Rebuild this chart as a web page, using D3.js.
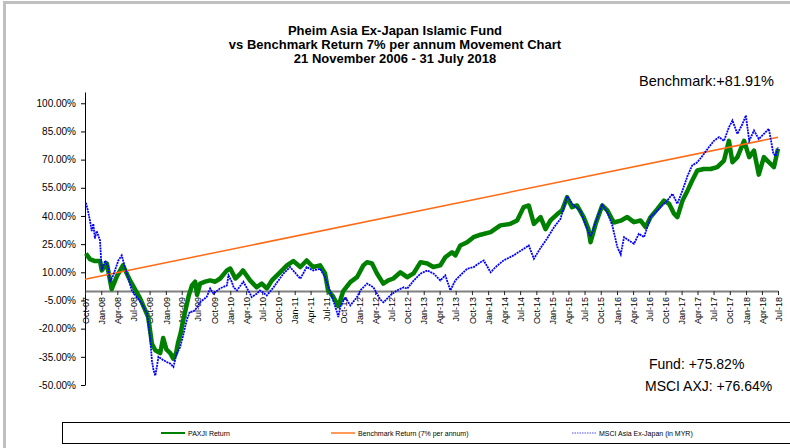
<!DOCTYPE html>
<html>
<head>
<meta charset="utf-8">
<script src="https://cdn.jsdelivr.net/npm/d3@7"></script>
<style>
  body { margin: 0; background: #fff; }
  svg { display: block; font-family: Arial, "Liberation Sans", sans-serif; }
</style>
</head>
<body>
<div id="chart"></div>
<script>
// Pheim Asia Ex-Japan Islamic Fund (%)
const paxji = [
  ["2007-10-06", 20], ["2007-10-29", 17], ["2007-11-26", 16], ["2007-12-25", 16], ["2008-01-04", 11],
  ["2008-02-02", 14.7], ["2008-02-29", 1], ["2008-03-30", 8], ["2008-05-03", 13.7], ["2008-06-12", 5.7],
  ["2008-08-08", -3.9], ["2008-09-23", -13.8], ["2008-10-14", -28], ["2008-11-02", -31.5], ["2008-11-30", -33],
  ["2008-12-17", -25], ["2009-01-04", -31], ["2009-01-26", -33], ["2009-02-12", -36], ["2009-02-28", -33],
  ["2009-03-10", -28], ["2009-03-27", -22], ["2009-04-08", -16], ["2009-04-25", -9], ["2009-05-12", -2],
  ["2009-05-29", 3], ["2009-06-16", 5], ["2009-06-27", -2], ["2009-07-14", 4], ["2009-08-12", 5],
  ["2009-09-09", 5.7], ["2009-10-08", 5], ["2009-11-05", 6.7], ["2009-12-13", 11], ["2010-01-01", 12],
  ["2010-01-30", 6.7], ["2010-02-25", 9], ["2010-03-14", 11], ["2010-04-06", 8], ["2010-04-23", 5.7],
  ["2010-05-31", 2], ["2010-06-28", 4], ["2010-07-27", 1.4], ["2010-08-25", 5.7], ["2010-09-18", 8],
  ["2010-10-10", 10], ["2010-11-18", 13.7], ["2010-12-24", 16], ["2011-02-02", 12.8], ["2011-03-10", 16.3],
  ["2011-04-15", 12.8], ["2011-05-25", 13.7], ["2011-06-22", 9.4], ["2011-07-09", 0.4], ["2011-08-07", -3],
  ["2011-09-05", -8], ["2011-09-16", -5], ["2011-10-03", 0], ["2011-11-12", 4.8], ["2011-12-20", 7.4],
  ["2012-01-25", 13.7], ["2012-02-15", 15.4], ["2012-03-14", 14.7], ["2012-04-11", 9.4], ["2012-05-17", 4],
  ["2012-06-14", 5.7], ["2012-07-13", 6.7], ["2012-08-22", 10], ["2012-09-29", 7.4], ["2012-11-04", 9.4],
  ["2012-12-14", 15.4], ["2013-01-21", 14.7], ["2013-02-24", 12.8], ["2013-04-05", 13.7], ["2013-05-03", 18],
  ["2013-06-10", 20.7], ["2013-06-29", 19], ["2013-07-27", 24.3], ["2013-09-04", 26], ["2013-10-10", 28.7],
  ["2013-11-19", 30], ["2014-01-15", 31.4], ["2014-03-11", 35], ["2014-05-07", 35.8], ["2014-06-14", 37.6],
  ["2014-07-21", 44.7], ["2014-08-19", 45.6], ["2014-09-17", 35.8], ["2014-10-25", 39.4], ["2014-11-22", 33],
  ["2014-12-20", 37.6], ["2015-01-28", 41], ["2015-02-24", 43], ["2015-03-24", 50], ["2015-04-21", 44.7],
  ["2015-05-19", 45.6], ["2015-06-26", 39.4], ["2015-07-23", 33], ["2015-08-04", 26], ["2015-09-02", 35.8],
  ["2015-10-09", 45.6], ["2015-11-07", 43], ["2015-12-14", 36.5], ["2016-01-22", 37.5], ["2016-02-28", 39.4],
  ["2016-04-06", 36.7], ["2016-05-13", 37.6], ["2016-06-11", 34], ["2016-07-09", 39.4], ["2016-08-17", 43.8],
  ["2016-09-23", 48.2], ["2016-10-22", 46.5], ["2016-11-19", 41.2], ["2016-12-08", 39.4], ["2017-01-06", 48.2],
  ["2017-02-04", 53.6], ["2017-03-02", 58.9], ["2017-03-31", 64.2], ["2017-05-07", 65], ["2017-06-14", 65],
  ["2017-07-22", 66], ["2017-08-29", 69.5], ["2017-09-26", 80], ["2017-10-16", 68.6], ["2017-11-13", 71.3],
  ["2017-12-21", 80], ["2018-01-19", 71.3], ["2018-02-15", 74.8], ["2018-03-14", 62], ["2018-04-12", 71.3],
  ["2018-05-10", 68.6], ["2018-06-08", 66], ["2018-07-01", 75.82]
];

// Benchmark 7% per annum (straight line)
const benchmark = [["2007-10-01", 6.3], ["2018-07-01", 81.91]];

// MSCI Asia Ex-Japan (in MYR)
const msci = [
  ["2007-10-06", 47], ["2007-10-17", 43], ["2007-10-29", 37.6], ["2007-11-08", 32], ["2007-11-17", 35.8],
  ["2007-11-26", 28], ["2007-12-06", 32], ["2007-12-25", 27], ["2008-01-04", 11], ["2008-01-23", 16.3],
  ["2008-02-10", 12.8], ["2008-02-19", 4.8], ["2008-03-09", 8.4], ["2008-04-07", 16.3], ["2008-04-26", 19],
  ["2008-05-14", 12.8], ["2008-06-03", 6.6], ["2008-06-22", 0.4], ["2008-07-20", -3.2], ["2008-08-18", -6.7],
  ["2008-09-16", -12], ["2008-10-04", -24.5], ["2008-10-14", -37], ["2008-10-23", -42], ["2008-11-02", -45],
  ["2008-11-11", -40.4], ["2008-11-20", -35], ["2008-12-18", -36.8], ["2009-01-07", -37.8], ["2009-01-26", -38.6],
  ["2009-02-13", -40.4], ["2009-03-03", -33.3], ["2009-03-22", -30], ["2009-04-08", -24], ["2009-04-29", -15.6],
  ["2009-05-17", -11], ["2009-06-04", -11], ["2009-06-25", -9], ["2009-07-14", -6], ["2009-08-21", -3],
  ["2009-09-09", 1.4], ["2009-09-28", -1.4], ["2009-11-05", 1.5], ["2009-12-13", 3], ["2009-12-22", 8.4],
  ["2010-01-10", 4.8], ["2010-01-20", 2], ["2010-02-08", 0.4], ["2010-03-16", 5], ["2010-04-23", -1.4],
  ["2010-05-02", -3.2], ["2010-05-31", -1.4], ["2010-06-18", 0.4], ["2010-07-27", -2.3], ["2010-09-03", 2],
  ["2010-10-29", 9.3], ["2010-12-06", 12.8], ["2011-02-02", 6.6], ["2011-03-10", 12.8], ["2011-04-16", 11],
  ["2011-05-25", 11.9], ["2011-06-22", 7.4], ["2011-08-01", -3.2], ["2011-08-28", -11], ["2011-09-05", -13.8],
  ["2011-09-16", -8.5], ["2011-10-14", -3.2], ["2011-11-12", -7.6], ["2011-12-20", -3.2], ["2012-01-08", 0.4],
  ["2012-02-15", 4], ["2012-03-22", 2], ["2012-04-30", -4.5], ["2012-05-18", -6], ["2012-06-25", -2.3],
  ["2012-08-03", 0.4], ["2012-09-10", 2], ["2012-09-29", 1.3], ["2012-11-06", 5.7], ["2012-12-14", 9.3],
  ["2013-01-21", 11], ["2013-02-26", 9.3], ["2013-04-05", 5.7], ["2013-05-03", 8.4], ["2013-06-01", 0.4],
  ["2013-06-29", 5.7], ["2013-07-27", 8.4], ["2013-09-04", 11.9], ["2013-10-11", 12.8], ["2013-11-19", 15.4],
  ["2013-12-07", 16.3], ["2014-01-15", 10], ["2014-02-12", 12.8], ["2014-03-29", 16.3], ["2014-05-25", 19],
  ["2014-07-21", 22.5], ["2014-08-19", 24.3], ["2014-09-17", 17.2], ["2014-10-25", 23], ["2014-12-01", 28],
  ["2015-01-09", 34], ["2015-02-15", 38.5], ["2015-03-24", 50.5], ["2015-04-30", 45.6], ["2015-06-07", 43],
  ["2015-07-15", 33.2], ["2015-08-04", 29], ["2015-09-02", 36.7], ["2015-10-09", 46], ["2015-11-07", 42],
  ["2015-12-05", 35], ["2016-01-03", 23.4], ["2016-01-22", 19.5], ["2016-02-10", 28.7], ["2016-03-08", 27],
  ["2016-04-06", 25.2], ["2016-05-04", 30.5], ["2016-06-02", 28.7], ["2016-07-09", 39.4], ["2016-08-17", 43],
  ["2016-09-23", 46.5], ["2016-10-12", 48.2], ["2016-11-10", 51.8], ["2016-12-08", 46.5], ["2017-01-06", 53.6],
  ["2017-02-04", 61.5], ["2017-03-02", 66.9], ["2017-03-31", 68.6], ["2017-05-07", 73], ["2017-06-04", 76.6],
  ["2017-07-03", 80], ["2017-08-01", 82], ["2017-08-29", 80], ["2017-09-26", 87.2], ["2017-10-16", 90.8],
  ["2017-11-13", 83.7], ["2017-12-12", 89], ["2017-12-31", 93.5], ["2018-01-19", 80], ["2018-02-15", 85.5],
  ["2018-03-14", 81], ["2018-04-12", 83.7], ["2018-05-10", 86.4], ["2018-06-05", 73], ["2018-06-18", 72],
  ["2018-07-01", 76.64]
];

const yTicks = [-50, -35, -20, -5, 10, 25, 40, 55, 70, 85, 100];
const titleLines = [
  "Pheim Asia Ex-Japan Islamic Fund",
  "vs Benchmark Return 7% per annum Movement Chart",
  "21 November 2006 - 31 July 2018"
];
const legendLabels = ["PAXJI Return", "Benchmark Return (7% per annum)", "MSCI Asia Ex-Japan (in MYR)"];

const W = 790, H = 448;
const parse = d3.timeParse("%Y-%m-%d");

const svg = d3.select("#chart").append("svg")
  .attr("width", W)
  .attr("height", H);

// light gray frame at top/left
svg.append("rect")
  .attr("x", 4.5).attr("y", 2.5)
  .attr("width", 820).attr("height", 480)
  .attr("fill", "none")
  .attr("stroke", "#c0c0c0")
  .attr("stroke-width", 3);

// title
svg.append("g").selectAll("text")
  .data(titleLines)
  .enter().append("text")
  .attr("x", 395)
  .attr("y", (d, i) => 35 + i * 14)
  .attr("text-anchor", "middle")
  .attr("font-size", "13px")
  .attr("font-weight", "bold")
  .text(d => d);

const x = d3.scaleTime()
  .domain([parse("2007-10-01"), parse("2018-07-01")])
  .range([85, 778]);

const y = d3.scaleLinear()
  .domain([-50, 106])
  .range([385, 92]);

// y axis
const yAxis = svg.append("g")
  .attr("transform", "translate(85,0)")
  .call(d3.axisLeft(y).tickValues(yTicks).tickSize(4).tickSizeOuter(0).tickPadding(5)
    .tickFormat(d => d.toFixed(2) + "%"));
yAxis.selectAll("text").attr("font-size", "10px").attr("fill", "#000")
  .attr("font-family", "Arial, 'Liberation Sans', sans-serif");
yAxis.select(".domain").attr("stroke", "#000");

// x axis along the 0% line
const xAxis = svg.append("g")
  .attr("transform", `translate(0,${y(0)})`)
  .call(d3.axisBottom(x).ticks(d3.timeMonth.every(3)).tickSize(4).tickSizeOuter(0)
    .tickFormat(d3.timeFormat("%b-%y")));
xAxis.select(".domain").attr("stroke", "#808080").attr("stroke-width", 2);
xAxis.selectAll(".tick line").attr("stroke", "#222");
xAxis.selectAll("text")
  .attr("font-size", "9px")
  .attr("fill", "#000")
  .attr("font-family", "Arial, 'Liberation Sans', sans-serif")
  .attr("text-anchor", "end")
  .attr("transform", "rotate(-90)")
  .attr("x", -6)
  .attr("y", 0)
  .attr("dy", "0.35em");

const line = d3.line()
  .x(d => x(parse(d[0])))
  .y(d => y(d[1]));

svg.append("path")
  .datum(paxji)
  .attr("d", line)
  .attr("fill", "none")
  .attr("stroke", "#008000")
  .attr("stroke-width", 4.5)
  .attr("stroke-linejoin", "round");

svg.append("path")
  .datum(benchmark)
  .attr("d", line)
  .attr("fill", "none")
  .attr("stroke", "#ff6a13")
  .attr("stroke-width", 1.5);

svg.append("path")
  .datum(msci)
  .attr("d", line)
  .attr("fill", "none")
  .attr("stroke", "#0000ff")
  .attr("stroke-width", 1.8)
  .attr("stroke-dasharray", "2,0.8");

// annotations
svg.append("text").attr("x", 774).attr("y", 86).attr("text-anchor", "end")
  .attr("font-size", "14.5px").text("Benchmark:+81.91%");
svg.append("text").attr("x", 649).attr("y", 369)
  .attr("font-size", "14px").text("Fund: +75.82%");
svg.append("text").attr("x", 645).attr("y", 391)
  .attr("font-size", "14px").text("MSCI AXJ: +76.64%");

// legend
const legend = svg.append("g");
legend.append("rect")
  .attr("x", 62.5).attr("y", 422.5)
  .attr("width", 760).attr("height", 21)
  .attr("fill", "#fff")
  .attr("stroke", "#000");

const legendX = [161, 331, 572];
const legendStyles = [
  { color: "#008000", width: 2, dash: null },
  { color: "#ff9a5a", width: 2, dash: null },
  { color: "#5050ff", width: 1.2, dash: "1.5,1" }
];
legendLabels.forEach((label, i) => {
  legend.append("line")
    .attr("x1", legendX[i]).attr("x2", legendX[i] + 24)
    .attr("y1", 433).attr("y2", 433)
    .attr("stroke", legendStyles[i].color)
    .attr("stroke-width", legendStyles[i].width)
    .attr("stroke-dasharray", legendStyles[i].dash);
  legend.append("text")
    .attr("x", legendX[i] + 27).attr("y", 435.5)
    .attr("font-size", "7px")
    .text(label);
});
</script>
</body>
</html>
